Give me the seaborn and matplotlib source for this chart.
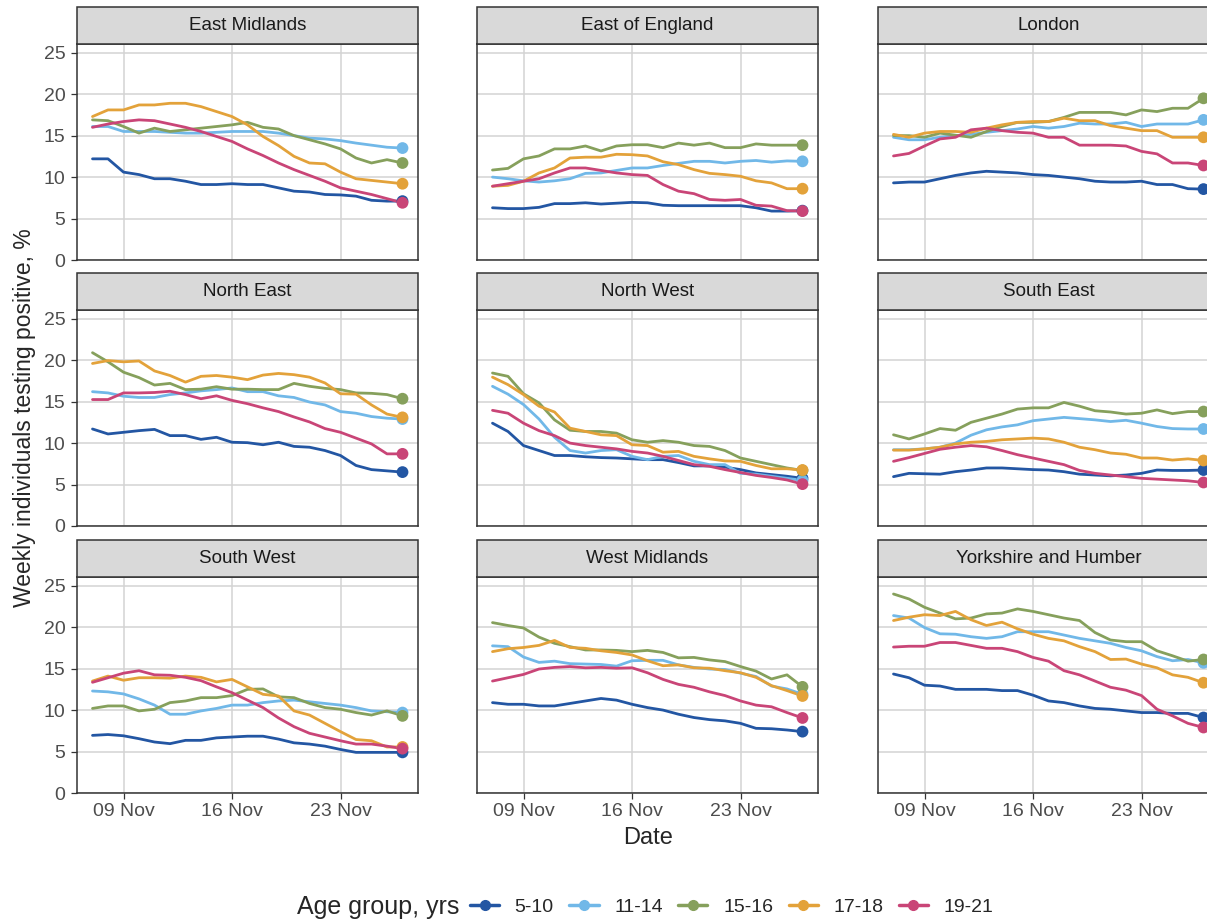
import matplotlib
matplotlib.use('Agg')
import matplotlib.pyplot as plt
import matplotlib.dates as mdates
from matplotlib.patches import Rectangle
from matplotlib.lines import Line2D
import pandas as pd
import seaborn as sns

# daily values, 7 Nov to 27 Nov
dates = pd.date_range('2021-11-07', '2021-11-27', freq='D')
age_groups = ['5-10', '11-14', '15-16', '17-18', '19-21']
colours = ['#2356A3', '#71B8E8', '#86A05C', '#E3A23A', '#C94577']
regions = ['East Midlands', 'East of England', 'London',
           'North East', 'North West', 'South East',
           'South West', 'West Midlands', 'Yorkshire and Humber']

east_midlands = [
    [12.2, 12.2, 10.6, 10.3, 9.8, 9.8, 9.5, 9.1, 9.1, 9.2, 9.1, 9.1, 8.7, 8.3, 8.2, 7.9, 7.85, 7.7, 7.2, 7.1, 7.1],
    [16.1, 16.1, 15.5, 15.5, 15.5, 15.4, 15.3, 15.3, 15.4, 15.5, 15.5, 15.5, 15.3, 15.0, 14.7, 14.6, 14.4, 14.1, 13.85, 13.6, 13.5],
    [16.9, 16.8, 16.1, 15.3, 15.9, 15.5, 15.7, 15.9, 16.1, 16.3, 16.6, 16.0, 15.8, 15.0, 14.5, 14.0, 13.4, 12.3, 11.7, 12.1, 11.7],
    [17.3, 18.1, 18.1, 18.7, 18.7, 18.9, 18.9, 18.5, 17.9, 17.3, 16.3, 14.9, 13.8, 12.5, 11.7, 11.6, 10.6, 9.8, 9.6, 9.4, 9.2],
    [16.0, 16.4, 16.7, 16.9, 16.8, 16.4, 16.0, 15.5, 14.9, 14.3, 13.4, 12.6, 11.7, 10.9, 10.2, 9.5, 8.7, 8.3, 7.9, 7.4, 6.9],
]
east_of_england = [
    [6.3, 6.2, 6.2, 6.35, 6.8, 6.8, 6.9, 6.75, 6.85, 6.95, 6.9, 6.6, 6.55, 6.55, 6.55, 6.55, 6.55, 6.3, 5.9, 5.9, 5.95],
    [10.0, 9.8, 9.55, 9.4, 9.55, 9.8, 10.45, 10.5, 10.8, 11.1, 11.1, 11.4, 11.65, 11.9, 11.9, 11.7, 11.9, 12.0, 11.8, 11.95, 11.9],
    [10.85, 11.05, 12.2, 12.55, 13.4, 13.4, 13.75, 13.15, 13.75, 13.9, 13.9, 13.55, 14.1, 13.85, 14.1, 13.55, 13.55, 14.0, 13.85, 13.85, 13.85],
    [8.9, 9.0, 9.5, 10.5, 11.1, 12.3, 12.4, 12.4, 12.75, 12.7, 12.55, 11.85, 11.5, 10.9, 10.45, 10.3, 10.1, 9.55, 9.3, 8.6, 8.6],
    [8.9, 9.2, 9.5, 9.8, 10.5, 11.1, 11.1, 10.8, 10.5, 10.3, 10.2, 9.1, 8.3, 8.0, 7.3, 7.2, 7.3, 6.6, 6.5, 5.95, 5.9],
]
london = [
    [9.3, 9.4, 9.4, 9.8, 10.2, 10.5, 10.7, 10.6, 10.5, 10.3, 10.2, 10.0, 9.8, 9.5, 9.4, 9.4, 9.5, 9.1, 9.1, 8.6, 8.55],
    [14.8, 14.5, 14.5, 14.8, 15.0, 15.15, 15.4, 15.6, 15.8, 16.1, 15.9, 16.1, 16.5, 16.4, 16.4, 16.6, 16.1, 16.4, 16.4, 16.4, 16.9],
    [15.0, 15.0, 14.8, 15.3, 15.05, 14.8, 15.5, 16.1, 16.6, 16.6, 16.7, 17.2, 17.8, 17.8, 17.8, 17.5, 18.1, 17.9, 18.3, 18.3, 19.5],
    [15.15, 14.8, 15.3, 15.5, 15.5, 15.4, 15.9, 16.3, 16.6, 16.7, 16.7, 17.1, 16.8, 16.8, 16.2, 15.9, 15.6, 15.6, 14.8, 14.8, 14.8],
    [12.55, 12.85, 13.75, 14.6, 14.8, 15.7, 15.9, 15.6, 15.4, 15.3, 14.8, 14.8, 13.85, 13.85, 13.85, 13.75, 13.1, 12.8, 11.7, 11.7, 11.4],
]
north_east = [
    [11.7, 11.1, 11.3, 11.5, 11.65, 10.9, 10.9, 10.45, 10.7, 10.1, 10.05, 9.8, 10.1, 9.6, 9.5, 9.1, 8.5, 7.3, 6.8, 6.65, 6.5],
    [16.2, 16.05, 15.65, 15.5, 15.5, 15.85, 16.05, 16.3, 16.45, 16.65, 16.2, 16.2, 15.7, 15.5, 14.95, 14.6, 13.8, 13.6, 13.2, 13.0, 12.9],
    [20.9, 19.8, 18.55, 17.9, 17.0, 17.2, 16.45, 16.5, 16.8, 16.5, 16.5, 16.45, 16.45, 17.2, 16.85, 16.6, 16.45, 16.05, 16.0, 15.85, 15.35],
    [19.6, 19.95, 19.8, 19.9, 18.7, 18.15, 17.35, 18.05, 18.15, 17.95, 17.65, 18.2, 18.4, 18.25, 17.95, 17.25, 15.95, 15.9, 14.6, 13.5, 13.1],
    [15.25, 15.25, 16.05, 16.05, 16.1, 16.25, 15.85, 15.35, 15.7, 15.15, 14.75, 14.25, 13.8, 13.15, 12.55, 11.75, 11.3, 10.6, 9.9, 8.7, 8.7],
]
north_west = [
    [12.4, 11.4, 9.7, 9.1, 8.5, 8.5, 8.35, 8.25, 8.2, 8.1, 8.0, 8.0, 7.65, 7.25, 7.25, 7.1, 6.8, 6.4, 6.2, 6.0, 5.75],
    [16.85, 15.9, 14.65, 12.9, 10.7, 9.1, 8.8, 9.1, 9.2, 8.4, 8.0, 8.4, 8.5, 7.8, 7.4, 7.4, 6.35, 6.25, 6.0, 5.75, 5.5],
    [18.45, 18.05, 15.95, 14.85, 12.8, 11.55, 11.4, 11.4, 11.2, 10.4, 10.1, 10.3, 10.1, 9.7, 9.6, 9.1, 8.2, 7.8, 7.4, 7.0, 6.7],
    [17.95, 17.05, 15.85, 14.45, 13.75, 11.8, 11.4, 11.0, 10.9, 9.8, 9.7, 8.9, 9.0, 8.4, 8.1, 7.85, 7.8, 7.3, 6.9, 6.9, 6.75],
    [13.95, 13.6, 12.4, 11.5, 10.9, 10.0, 9.7, 9.5, 9.3, 9.0, 8.8, 8.4, 7.9, 7.4, 7.2, 6.8, 6.45, 6.1, 5.85, 5.55, 5.05],
]
south_east = [
    [5.95, 6.35, 6.3, 6.25, 6.55, 6.75, 7.0, 7.0, 6.9, 6.8, 6.75, 6.55, 6.25, 6.15, 6.05, 6.15, 6.35, 6.75, 6.7, 6.7, 6.75],
    [9.2, 9.2, 9.3, 9.5, 10.0, 10.95, 11.6, 11.95, 12.2, 12.7, 12.9, 13.1, 12.95, 12.8, 12.6, 12.75, 12.4, 12.0, 11.75, 11.7, 11.7],
    [11.0, 10.5, 11.1, 11.75, 11.55, 12.5, 13.0, 13.5, 14.1, 14.25, 14.25, 14.9, 14.45, 13.9, 13.75, 13.5, 13.6, 14.0, 13.55, 13.8, 13.8],
    [9.15, 9.15, 9.3, 9.5, 9.9, 10.1, 10.2, 10.4, 10.5, 10.6, 10.5, 10.1, 9.5, 9.2, 8.8, 8.65, 8.2, 8.2, 7.95, 8.1, 7.9],
    [7.8, 8.25, 8.75, 9.25, 9.5, 9.7, 9.55, 9.1, 8.6, 8.2, 7.8, 7.4, 6.7, 6.35, 6.15, 5.95, 5.75, 5.65, 5.55, 5.45, 5.25],
]
south_west = [
    [6.95, 7.05, 6.9, 6.55, 6.15, 5.95, 6.35, 6.35, 6.65, 6.75, 6.85, 6.85, 6.5, 6.05, 5.9, 5.65, 5.25, 4.9, 4.9, 4.9, 4.9],
    [12.3, 12.2, 11.95, 11.35, 10.6, 9.5, 9.5, 9.9, 10.2, 10.6, 10.6, 10.9, 11.1, 11.2, 11.0, 10.8, 10.6, 10.3, 9.9, 9.8, 9.7],
    [10.2, 10.5, 10.5, 9.9, 10.1, 10.9, 11.1, 11.5, 11.5, 11.75, 12.5, 12.55, 11.6, 11.5, 10.8, 10.3, 10.1, 9.7, 9.4, 9.9, 9.3],
    [13.5, 14.1, 13.6, 13.9, 13.9, 13.85, 14.1, 13.95, 13.4, 13.7, 12.8, 11.9, 11.7, 9.9, 9.4, 8.4, 7.4, 6.45, 6.3, 5.55, 5.55],
    [13.35, 13.9, 14.45, 14.75, 14.25, 14.2, 13.95, 13.55, 12.8, 12.1, 11.2, 10.3, 9.05, 8.0, 7.2, 6.75, 6.3, 5.9, 5.9, 5.65, 5.35],
]
west_midlands = [
    [10.9, 10.7, 10.7, 10.5, 10.5, 10.8, 11.1, 11.4, 11.2, 10.7, 10.3, 10.0, 9.5, 9.1, 8.85, 8.7, 8.4, 7.8, 7.75, 7.6, 7.4],
    [17.75, 17.65, 16.4, 15.75, 15.9, 15.6, 15.55, 15.5, 15.3, 15.95, 16.0, 16.0, 15.45, 15.15, 14.95, 14.9, 14.45, 14.05, 12.9, 12.55, 11.9],
    [20.55, 20.2, 19.9, 18.8, 18.05, 17.65, 17.25, 17.25, 17.2, 17.05, 17.2, 16.95, 16.3, 16.35, 16.05, 15.85, 15.25, 14.7, 13.75, 14.25, 12.8],
    [17.05, 17.4, 17.55, 17.8, 18.4, 17.55, 17.45, 17.15, 16.95, 16.65, 15.95, 15.35, 15.45, 15.1, 15.05, 14.75, 14.5, 13.95, 12.95, 12.35, 11.7],
    [13.5, 13.9, 14.3, 14.95, 15.15, 15.25, 15.1, 15.15, 15.05, 15.1, 14.5, 13.7, 13.1, 12.75, 12.2, 11.75, 11.1, 10.6, 10.4, 9.7, 9.05],
]
yorkshire = [
    [14.35, 13.9, 13.0, 12.9, 12.5, 12.5, 12.5, 12.35, 12.35, 11.8, 11.1, 10.9, 10.5, 10.2, 10.1, 9.9, 9.7, 9.7, 9.6, 9.6, 9.1],
    [21.4, 21.1, 19.95, 19.2, 19.15, 18.85, 18.65, 18.85, 19.45, 19.45, 19.45, 19.05, 18.65, 18.35, 18.05, 17.55, 17.15, 16.45, 15.95, 16.1, 15.7],
    [24.0, 23.4, 22.4, 21.7, 21.0, 21.1, 21.6, 21.7, 22.2, 21.9, 21.5, 21.1, 20.8, 19.35, 18.45, 18.25, 18.25, 17.15, 16.55, 15.9, 16.1],
    [20.8, 21.2, 21.5, 21.4, 21.9, 20.9, 20.2, 20.6, 19.8, 19.15, 18.65, 18.35, 17.65, 17.05, 16.1, 16.15, 15.55, 15.1, 14.25, 13.95, 13.3],
    [17.6, 17.7, 17.7, 18.15, 18.15, 17.8, 17.45, 17.45, 17.05, 16.35, 15.9, 14.75, 14.25, 13.5, 12.75, 12.4, 11.75, 10.1, 9.3, 8.4, 7.9],
]

region_values = [east_midlands, east_of_england, london, north_east, north_west,
                 south_east, south_west, west_midlands, yorkshire]

rows = []
for region, vals in zip(regions, region_values):
    for age, series in zip(age_groups, vals):
        for d, v in zip(dates, series):
            rows.append((region, age, d, v))
df = pd.DataFrame(rows, columns=['region', 'age', 'date', 'value'])
last = df[df['date'] == dates[-1]]

sns.set_style('ticks')
plt.rcParams['font.family'] = ['Liberation Sans', 'DejaVu Sans']

g = sns.relplot(data=df, x='date', y='value', hue='age', hue_order=age_groups,
                palette=colours, col='region', col_order=regions, col_wrap=3,
                kind='line', linewidth=2.0, errorbar=None, legend=False,
                height=3, aspect=1.5,
                facet_kws={'despine': False, 'sharex': True, 'sharey': True})
fig = g.figure
fig.set_size_inches(12.07, 9.23)
g.set_titles('')
g.set_axis_labels('', '')

W, H = 1207, 923
lefts = [77, 477, 878]
tops = [44, 310, 577]
pw, ph = 341, 216
strip_h = 37

for i, (ax, region) in enumerate(zip(g.axes.flat, regions)):
    r, c = divmod(i, 3)
    ax.set_position([lefts[c] / W, 1 - (tops[r] + ph) / H, pw / W, ph / H])
    sns.scatterplot(data=last[last['region'] == region], x='date', y='value',
                    hue='age', hue_order=age_groups, palette=colours, s=72,
                    edgecolor='none', legend=False, ax=ax, zorder=5)
    ax.set_xlabel('')
    ax.set_ylabel('')
    ax.set_xlim(pd.Timestamp('2021-11-06'), pd.Timestamp('2021-11-28'))
    ax.set_ylim(0, 26.05)
    ax.set_yticks([0, 5, 10, 15, 20, 25])
    ax.set_xticks(pd.to_datetime(['2021-11-09', '2021-11-16', '2021-11-23']))
    ax.xaxis.set_major_formatter(mdates.DateFormatter('%d %b'))
    ax.grid(True, color='#D3D3D3', lw=1.1)
    ax.set_axisbelow(True)
    for sp in ax.spines.values():
        sp.set_color('#333333')
        sp.set_linewidth(1.1)
    ax.tick_params(length=4.3, width=0.9, color='#333333', labelsize=14,
                   labelcolor='#4D4D4D')
    ax.tick_params(axis='y', pad=4)
    ax.tick_params(axis='x', pad=3)
    if c != 0:
        ax.tick_params(axis='y', length=0, labelleft=False)
    else:
        ax.tick_params(axis='y', labelleft=True)
    if r != 2:
        ax.tick_params(axis='x', length=0, labelbottom=False)
    else:
        ax.tick_params(axis='x', labelbottom=True)
    # facet strip
    ax.add_patch(Rectangle((0, 1), 1, strip_h / ph, transform=ax.transAxes,
                           facecolor='#D9D9D9', edgecolor='#333333', lw=1.1,
                           clip_on=False, zorder=10))
    ax.text(0.5, 1 + strip_h / ph / 2, region, transform=ax.transAxes,
            ha='center', va='center', fontsize=13.5, color='#1A1A1A', zorder=11)

fig.text(648 / W, 1 - 838 / H, 'Date', ha='center', va='center', fontsize=17)
fig.text(25 / W, 1 - 418 / H, 'Weekly individuals testing positive, %',
         ha='center', va='center', rotation=90, fontsize=16.5)

fig.text(297 / W, 1 - 907 / H, 'Age group, yrs', ha='left', va='center', fontsize=18)
handles = [Line2D([], [], color=col, lw=2.5, marker='o', markersize=7)
           for col in colours]
fig.legend(handles, age_groups, ncol=5, loc='center left',
           bbox_to_anchor=(470 / W, 1 - 907 / H), frameon=False, fontsize=14,
           handlelength=1.5, handletextpad=0.8, columnspacing=0.8,
           borderpad=0, borderaxespad=0)

fig.savefig('out.png', dpi=100)
